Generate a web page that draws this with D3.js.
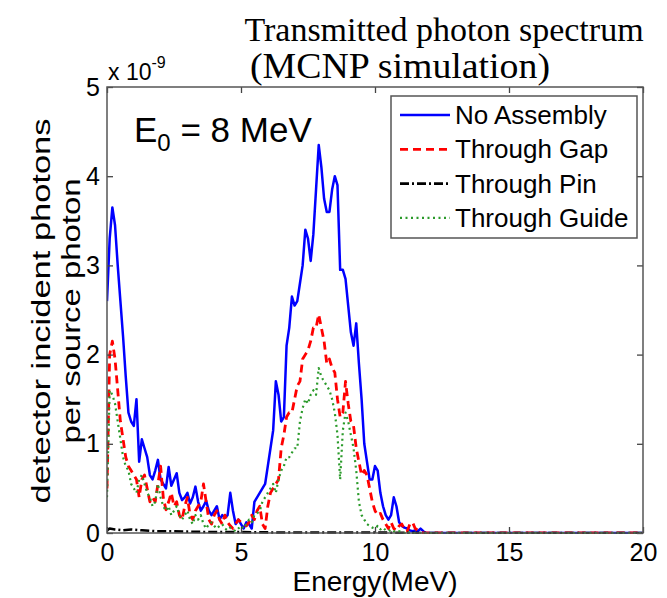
<!DOCTYPE html>
<html>
<head>
<meta charset="utf-8">
<script src="https://cdn.jsdelivr.net/npm/d3@7"></script>
<style>
  body { margin: 0; background: #fff; }
  svg text { font-family: "Liberation Sans", Arial, sans-serif; }
</style>
</head>
<body>
<div id="chart"></div>
<script>
var W = 667, H = 598
var margin = {top: 87, right: 24, bottom: 65, left: 107}

// energy bins (MeV), 0.1 MeV wide, last point closes the line at the axis end
var energy = d3.range(0, 121).map(function(i) { return +(i * 0.1).toFixed(1) }).concat([20])

// detector incident photons per source photon (x 1e-9)
var noAssembly = [
  2.6, 3.3, 3.65, 3.45, 3.0, 2.6, 2.2, 1.75, 1.35, 1.25,
  1.2, 1.5, 0.8, 1.05, 0.95, 0.85, 0.65, 0.6, 0.7, 0.82,
  0.6, 0.55, 0.5, 0.74, 0.53, 0.6, 0.67, 0.45, 0.37, 0.4,
  0.45, 0.33, 0.4, 0.52, 0.35, 0.25, 0.3, 0.36, 0.25, 0.2,
  0.25, 0.3, 0.15, 0.2, 0.17, 0.2, 0.45, 0.25, 0.1, 0.15,
  0.1, 0.05, 0.12, 0.1, 0.05, 0.35, 0.4, 0.45, 0.5, 0.55,
  0.75, 0.95, 1.15, 1.7, 1.55, 1.25, 1.3, 2.1, 2.3, 2.65,
  2.55, 2.6, 2.8, 3.0, 3.4, 3.3, 3.05, 3.35, 3.85, 4.35,
  4.1, 3.75, 3.6, 3.6, 3.85, 4.0, 3.9, 2.95, 2.95, 2.85,
  2.55, 2.25, 2.1, 2.35, 1.9, 1.5, 1.0, 0.8, 0.6, 0.6,
  0.75, 0.7, 0.45, 0.3, 0.2, 0.15, 0.2, 0.4, 0.3, 0.12,
  0.08, 0.06, 0.05, 0.03, 0.02, 0.03, 0.02, 0.05, 0.02, 0,
  0, 0]

var throughGap = [
  0.5, 2.0, 2.15, 1.95, 1.6, 1.25, 1.05, 0.85, 0.75, 0.7,
  0.65, 0.6, 0.4, 0.6, 0.65, 0.5, 0.35, 0.4, 0.35, 0.55,
  0.75, 0.4, 0.26, 0.35, 0.45, 0.3, 0.35, 0.2, 0.15, 0.3,
  0.4, 0.2, 0.15, 0.25, 0.3, 0.35, 0.55, 0.35, 0.15, 0.1,
  0.2, 0.25, 0.15, 0.1, 0.2, 0.12, 0.08, 0.05, 0.1, 0.15,
  0.12, 0.1, 0.08, 0.12, 0.2, 0.15, 0.25, 0.3, 0.1, 0.05,
  0.3, 0.45, 0.5, 0.55, 0.6, 0.95, 1.1, 1.3, 1.35, 1.35,
  1.5, 1.65, 1.7, 1.95, 2.0, 2.05, 2.15, 2.3, 2.3, 2.45,
  2.3, 2.15, 1.9, 1.95, 1.85, 1.8, 1.5, 1.3, 1.35, 1.7,
  1.45, 1.25, 1.2, 0.95, 0.8, 0.65, 0.7, 0.65, 0.5, 0.35,
  0.25, 0.2, 0.22, 0.15, 0.1, 0.05, 0.12, 0.05, 0.03, 0.08,
  0.1, 0.04, 0.02, 0.1, 0.12, 0.05, 0.03, 0.02, 0, 0,
  0, 0]

var throughGuide = [
  0.4, 1.6, 1.55, 1.45, 1.25, 1.05, 0.85, 0.75, 0.7, 0.55,
  0.5, 0.45, 0.6, 0.65, 0.55, 0.45, 0.4, 0.3, 0.35, 0.55,
  0.4, 0.3, 0.25, 0.3, 0.2, 0.25, 0.3, 0.2, 0.15, 0.2,
  0.25, 0.15, 0.1, 0.2, 0.15, 0.2, 0.1, 0.05, 0.1, 0.12,
  0.08, 0.05, 0.08, 0.1, 0.05, 0.03, 0.06, 0.04, 0.02, 0.05,
  0.08, 0.05, 0.1, 0.15, 0.12, 0.2, 0.22, 0.25, 0.35, 0.4,
  0.45, 0.5, 0.55, 0.45, 0.6, 0.7, 0.75, 0.85, 0.85, 0.9,
  0.95, 0.95, 1.25, 1.4, 1.5, 1.45, 1.55, 1.6, 1.55, 1.85,
  1.75, 1.7, 1.65, 1.6, 1.5, 1.35, 1.1, 0.6, 1.15, 1.35,
  1.25, 1.1, 0.95, 0.7, 0.35, 0.2, 0.15, 0.1, 0.08, 0.06,
  0.05, 0.08, 0.04, 0.06, 0.03, 0.02, 0.04, 0.02, 0.01, 0.02,
  0.01, 0, 0.02, 0, 0, 0, 0, 0, 0, 0,
  0, 0]

// pin series is almost flat, read on a coarser grid
var pinEnergy = [0, 0.1, 0.3, 0.6, 0.9, 1.3, 1.8, 2.4, 3.0, 4.0, 5.0, 6.5, 8.0, 10.0, 12.0, 20]
var throughPin = [0.03, 0.05, 0.04, 0.03, 0.04, 0.03, 0.02, 0.02, 0.015, 0.01, 0.01, 0.005, 0.005, 0.005, 0, 0]

var seriesNames = ["No Assembly", "Through Gap", "Through Pin", "Through Guide"]
var seriesColors = ["#0000ff", "#ff0000", "#000000", "#2a9a2a"]
var seriesDash = [null, "8,5", "9,3,2,3", "2,3.5"]
var seriesWidth = [2.5, 2.8, 2.6, 2.2]

var xTicks = [0, 5, 10, 15, 20]
var yTicks = [0, 1, 2, 3, 4, 5]

var pw = W - margin.left - margin.right
var ph = H - margin.top - margin.bottom

var svg = d3.select("#chart").append("svg")
    .attr("width", W)
    .attr("height", H)

var g = svg.append("g")
    .attr("transform", "translate(" + margin.left + "," + margin.top + ")")

var xScale = d3.scaleLinear().domain([0, 20]).range([0, pw])
var yScale = d3.scaleLinear().domain([0, 5]).range([ph, 0])

svg.append("defs").append("clipPath").attr("id", "clip")
  .append("rect").attr("width", pw).attr("height", ph + 1)

// curves, drawn in legend order
var series = [
  energy.map(function(e, i) { return [e, noAssembly[i]] }),
  energy.map(function(e, i) { return [e, throughGap[i]] }),
  pinEnergy.map(function(e, i) { return [e, throughPin[i]] }),
  energy.map(function(e, i) { return [e, throughGuide[i]] })
]

var line = d3.line()
    .x(function(d) { return xScale(d[0]) })
    .y(function(d) { return yScale(d[1]) })

var plot = g.append("g").attr("clip-path", "url(#clip)")
series.forEach(function(s, i) {
  plot.append("path")
    .datum(s)
    .attr("fill", "none")
    .attr("stroke", seriesColors[i])
    .attr("stroke-width", seriesWidth[i])
    .attr("stroke-dasharray", seriesDash[i])
    .attr("stroke-linejoin", "round")
    .attr("d", line)
})

// axes, ticks pointing inward on all four sides
function styleAxis(sel) {
  sel.select(".domain").remove()
  sel.selectAll(".tick line").attr("stroke", "#444").attr("stroke-width", 1.3)
  sel.selectAll(".tick text").attr("fill", "#000").style("font-size", "25px")
    .style("font-family", "Liberation Sans, Arial, sans-serif")
}

g.append("g")
  .attr("transform", "translate(0," + ph + ")")
  .call(d3.axisBottom(xScale).tickValues(xTicks).tickSize(-6).tickPadding(10).tickFormat(d3.format("d")))
  .call(styleAxis)

g.append("g")
  .call(d3.axisTop(xScale).tickValues(xTicks).tickSize(-6).tickFormat(""))
  .call(styleAxis)

g.append("g")
  .call(d3.axisLeft(yScale).tickValues(yTicks).tickSize(-6).tickPadding(7).tickFormat(d3.format("d")))
  .call(styleAxis)

g.append("g")
  .attr("transform", "translate(" + pw + ",0)")
  .call(d3.axisRight(yScale).tickValues(yTicks).tickSize(-6).tickFormat(""))
  .call(styleAxis)

g.append("rect")
  .attr("width", pw)
  .attr("height", ph)
  .attr("fill", "none")
  .attr("stroke", "#555")
  .attr("stroke-width", 1.5)

// exponent label
var expo = svg.append("text")
  .attr("x", margin.left + 1)
  .attr("y", 80)
  .style("font-size", "23px")
expo.append("tspan").text("x 10")
expo.append("tspan").attr("dy", -12).style("font-size", "16px").text("-9")

// energy label inside the plot
var e0 = svg.append("text")
  .attr("x", 134)
  .attr("y", 142)
  .style("font-size", "35px")
e0.append("tspan").text("E")
e0.append("tspan").attr("dy", 9).style("font-size", "24px").text("0")
e0.append("tspan").attr("dy", -9).text(" = 8 MeV")

// legend
var lg = svg.append("g").attr("transform", "translate(391,96)")
lg.append("rect")
  .attr("width", 246)
  .attr("height", 142)
  .attr("fill", "#fff")
  .attr("stroke", "#555")
  .attr("stroke-width", 1.5)

var item = lg.selectAll(".item")
  .data(seriesNames)
  .enter().append("g")
  .attr("class", "item")
  .attr("transform", function(d, i) { return "translate(0," + (19 + i * 34.3) + ")" })

item.append("line")
  .attr("x1", 9).attr("x2", 59)
  .attr("stroke", function(d, i) { return seriesColors[i] })
  .attr("stroke-width", function(d, i) { return seriesWidth[i] })
  .attr("stroke-dasharray", function(d, i) { return seriesDash[i] })

item.append("text")
  .attr("x", 64)
  .attr("y", 9)
  .style("font-size", "26px")
  .text(function(d) { return d })

// titles
svg.append("text")
  .attr("x", 444).attr("y", 41)
  .attr("text-anchor", "middle")
  .style("font-family", "Liberation Serif, Times New Roman, serif")
  .style("font-size", "34px")
  .text("Transmitted photon spectrum")

svg.append("text")
  .attr("x", 400).attr("y", 78)
  .attr("text-anchor", "middle")
  .attr("textLength", 300)
  .attr("lengthAdjust", "spacingAndGlyphs")
  .style("font-family", "Liberation Serif, Times New Roman, serif")
  .style("font-size", "35px")
  .text("(MCNP simulation)")

svg.append("text")
  .attr("x", margin.left + pw / 2).attr("y", 591)
  .attr("text-anchor", "middle")
  .style("font-size", "28px")
  .text("Energy(MeV)")

var ylab = svg.append("g")
  .attr("transform", "translate(50,311) rotate(-90)")
ylab.append("text")
  .attr("text-anchor", "middle")
  .attr("textLength", 385)
  .attr("lengthAdjust", "spacingAndGlyphs")
  .style("font-size", "26px")
  .text("detector incident photons")
ylab.append("text")
  .attr("y", 30)
  .attr("text-anchor", "middle")
  .attr("textLength", 265)
  .attr("lengthAdjust", "spacingAndGlyphs")
  .style("font-size", "26px")
  .text("per source photon")
</script>
</body>
</html>
